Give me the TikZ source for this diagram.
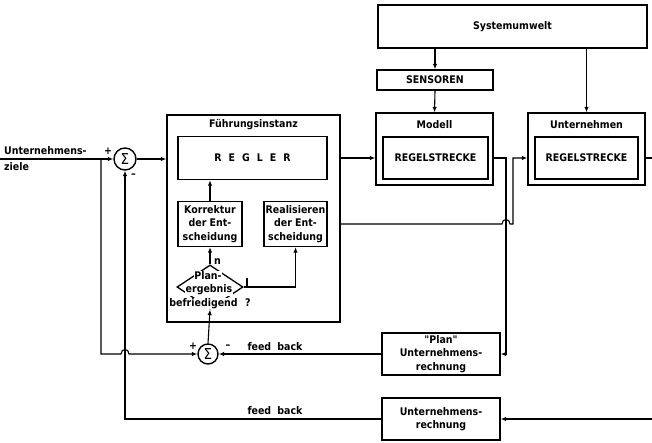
\documentclass[tikz,border=0pt]{standalone}
\usepackage{fontspec}
\setmainfont{DejaVu Sans Condensed}[Ligatures=TeXOff]
\usetikzlibrary{arrows.meta,shapes.geometric}
\begin{document}
\begin{tikzpicture}[x=1pt,y=-1pt,
  every node/.style={font=\bfseries\fontsize{10.5}{13.5}\selectfont, inner sep=0pt},
  box/.style={draw, line width=1.4pt, align=center},
  conn/.style={line width=1.1pt},
  arr/.style={conn,-{Latex[length=5.5pt,width=4.5pt]}},
  sumnode/.style={draw, circle, line width=1.4pt, font=\mdseries\fontsize{15}{15}\selectfont},
  lbl/.style={fill=white, inner sep=0.8pt}]
\useasboundingbox (0,0) rectangle (652,442);

% top right blocks
\node[box, minimum width=269pt, minimum height=43pt] (sys) at (512.5,26.5) {Systemumwelt};
\node[box, minimum width=116pt, minimum height=20pt] (sens) at (435,80) {SENSOREN};
\node[box, minimum width=117pt, minimum height=72pt] (modell) at (434.5,149) {};
\node[anchor=center] (modelllbl) at (434.5,125) {Modell};
\node[box, minimum width=105pt, minimum height=42pt] (modellin) at (435.5,158) {REGELSTRECKE};
\node[box, minimum width=117pt, minimum height=72pt] (unt) at (586.5,149) {};
\node[anchor=center] (untlbl) at (586.5,125) {Unternehmen};
\node[box, minimum width=103pt, minimum height=42pt] (untin) at (586.5,158) {REGELSTRECKE};

% Fuehrungsinstanz
\node[box, minimum width=173pt, minimum height=207pt] (fuehr) at (253.5,218.5) {};
\node (fuehrlbl) at (253.5,125) {Führungsinstanz};
\node[box, minimum width=149pt, minimum height=43pt] (regler) at (252.5,158) {R\hspace{7pt}E\hspace{7pt}G\hspace{7pt}L\hspace{7pt}E\hspace{7pt}R};
\node[box, minimum width=64pt, minimum height=45pt] (korr) at (210,224) {Korrektur\\der Ent-\\scheidung};
\node[box, minimum width=63pt, minimum height=45pt] (real) at (295.5,224) {Realisieren\\der Ent-\\scheidung};
\node[draw, diamond, line width=1.3pt, minimum width=66pt, minimum height=44pt] (dia) at (210,287) {};
\node[lbl] (dt1) at (208,276) {Plan-};
\node[lbl] (dt2) at (209,290) {ergebnis};
\node[lbl] (dt3) at (210,303.5) {befriedigend\hspace{0.7em}?};
\node[anchor=west] (nlbl) at (214,262) {n};

% sums
\node[sumnode, minimum size=22pt] (sum1) at (125,159) {Σ};
\node[sumnode, minimum size=20pt] (sum2) at (208,354) {Σ};
\node (p1) at (108,151) {+};
\node (m1) at (133.5,176) {–};
\node (p2) at (193,346) {+};
\node (m2) at (228,347) {–};

% bottom boxes
\node[box, minimum width=118pt, minimum height=42pt] (plan) at (441,354) {"Plan"\\Unternehmens-\\rechnung};
\node[box, minimum width=118pt, minimum height=42pt] (ur) at (441,419) {Unternehmens-\\rechnung};
\node (fb1) at (275,347) {feed\hspace{0.6em}back};
\node (fb2) at (275,411) {feed\hspace{0.6em}back};

% input text
\node[anchor=west] (ziel1) at (4,151) {Unternehmens-};
\node[anchor=west] (ziel2) at (4,166.5) {ziele};

% free ends
\coordinate (in) at (0,159);
\coordinate (br) at (101,159);
\coordinate (outR) at (652,158);
\coordinate (inR) at (652,419);

% connectors
\draw[arr] (in) -- (sum1.west);
\draw[arr] (br) -- (101,354) -- (121,354) .. controls (121,348) and (129,348) .. (129,354) -- (sum2.west);
\draw[arr] (ur.west) -| (sum1.south);
\draw[arr] (sum1.east) -- (fuehr.west |- sum1.east);
\draw[arr] (fuehr.east |- regler.center) -- (modell.west |- regler.center);
\draw[arr] (fuehr.east |- real.center) -- (502,224) .. controls (502,218) and (510,218) .. (510,224) -- (513,224) -- (513,158) -- (unt.west |- untin.center);
\draw[arr] (modell.east |- modellin.center) -- (506,158) -- (506,354) -- (plan.east);
\draw[conn] (unt.east |- untin.center) -- (outR);
\draw[arr] (inR) -- (ur.east);
\draw[arr] (plan.west) -- (sum2.east);
\draw[arr] (sum2.north) -- (dia.south);
\draw[arr] (dia.north) -- (korr.south);
\draw[arr] (korr.north) -- (korr.north |- regler.south);
\draw[arr] (dia.east) -| (real.south);
\draw[conn] (247,278) -- (247,288);
\draw[arr] (sys.south -| sens.north) -- (sens.north);
\draw[arr] (sens.south) -- (modell.north);
\draw[arr] (sys.south -| unt.north) -- (unt.north);
\end{tikzpicture}
\end{document}
